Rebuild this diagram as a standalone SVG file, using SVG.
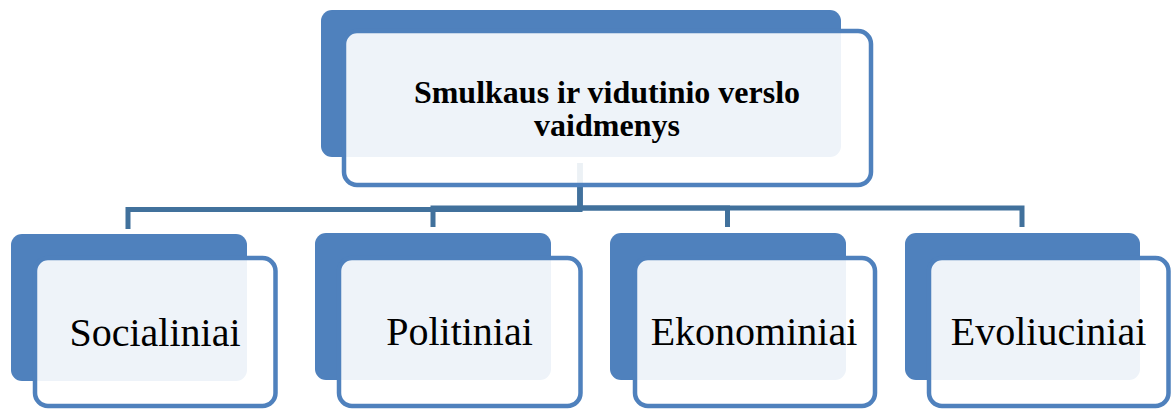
<svg xmlns="http://www.w3.org/2000/svg" width="1172" height="411" viewBox="0 0 1172 411">
  <style>
    .back { fill: #4F81BD; }
    .front { fill: #FFFFFF; fill-opacity: 0.9; stroke: #4F81BD; stroke-width: 4.5; }
    .conn { fill: none; stroke: #41719C; stroke-width: 5; stroke-linejoin: miter; }
    .title { font-weight: bold; font-size: 32px; fill: #000; text-anchor: middle; }
    .label { font-size: 40px; fill: #000; text-anchor: middle; }
  </style>
  <rect width="1172" height="411" fill="#FFFFFF"/>
  <g id="connectors">
    <path class="conn" d="M580,163 V209.5 H128 V229"/>
    <path class="conn" d="M580,163 V208 H433 V227"/>
    <path class="conn" d="M580,163 V208 H727.5 V227"/>
    <path class="conn" d="M580,163 V208 H1022 V227"/>
  </g>
  <g id="node-root">
    <rect class="back" x="321" y="10" width="520" height="147" rx="11"/>
    <rect class="front" x="344" y="31" width="527" height="154" rx="13"/>
    <text class="title" font-family="Liberation Serif, Times New Roman, serif" x="607" y="102.5">Smulkaus ir vidutinio verslo</text>
    <text class="title" font-family="Liberation Serif, Times New Roman, serif" x="607" y="136">vaidmenys</text>
  </g>
  <g id="node-socialiniai">
    <rect class="back" x="11" y="234" width="236" height="147" rx="11"/>
    <rect class="front" x="35" y="258" width="240.5" height="148" rx="13"/>
    <text class="label" font-family="Liberation Serif, Times New Roman, serif" x="155" y="345.5">Socialiniai</text>
  </g>
  <g id="node-politiniai">
    <rect class="back" x="315" y="233" width="236" height="147" rx="11"/>
    <rect class="front" x="339" y="258" width="241.5" height="148" rx="13"/>
    <text class="label" font-family="Liberation Serif, Times New Roman, serif" x="459.5" y="344.5">Politiniai</text>
  </g>
  <g id="node-ekonominiai">
    <rect class="back" x="610" y="233" width="236" height="147" rx="11"/>
    <rect class="front" x="635" y="258" width="240" height="148" rx="13"/>
    <text class="label" font-family="Liberation Serif, Times New Roman, serif" x="754" y="344.5">Ekonominiai</text>
  </g>
  <g id="node-evoliuciniai">
    <rect class="back" x="905" y="233" width="235" height="147" rx="11"/>
    <rect class="front" x="929" y="258" width="239.5" height="148" rx="13"/>
    <text class="label" font-family="Liberation Serif, Times New Roman, serif" x="1048.5" y="344.5">Evoliuciniai</text>
  </g>
</svg>
